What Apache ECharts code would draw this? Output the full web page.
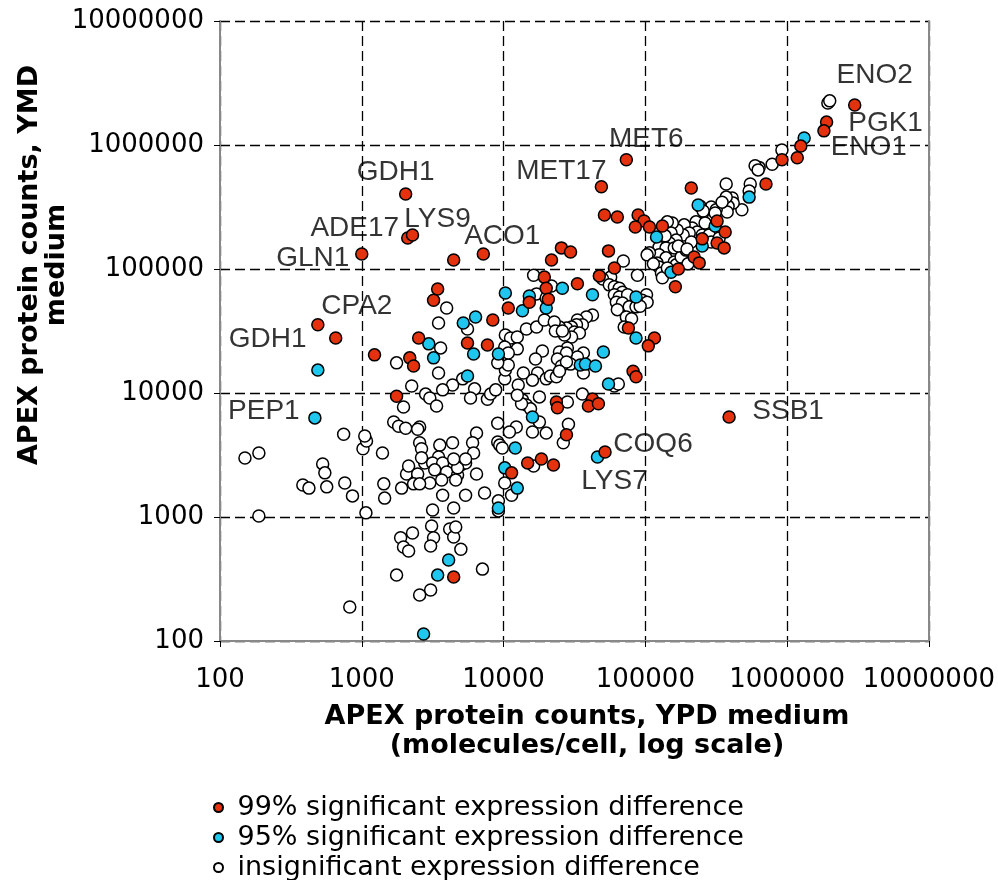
<!DOCTYPE html>
<html>
<head>
<meta charset="utf-8">
<title>APEX protein counts: YPD vs YMD</title>
<script src="https://cdn.jsdelivr.net/npm/echarts@6/dist/echarts.min.js"></script>
<style>
  html, body { margin: 0; padding: 0; background: #ffffff; }
  #chart { width: 998px; height: 880px; }
</style>
</head>
<body>
<div id="chart"></div>
<script>
// Protein counts (molecules/cell): [YPD medium, YMD medium]

// 99% significant expression difference
const sig99 = [
  [3000000, 2100000], [1900000, 1530000], [1820000, 1300000], [1250000, 980000], [1180000, 790000],
  [920000, 760000], [710000, 485000],
  [73500, 760000], [49000, 460000], [211000, 450000], [51500, 273000], [63500, 263000], [89000, 273000],
  [98000, 244000], [85000, 218000], [107000, 218000], [132000, 222000],
  [321000, 244000], [366000, 199000], [252000, 175000], [321000, 162000], [360000, 148000],
  [221000, 125000], [240000, 112000],
  [55000, 140000], [25600, 148000], [29700, 137000], [60500, 102000], [47400, 88000], [33200, 76000],
  [171000, 100000], [163000, 72000],
  [76000, 33400], [116000, 27800], [105000, 24000],
  [2040, 403000], [2110, 178000], [2280, 188000], [1000, 132000], [4450, 118000], [7200, 132000],
  [21800, 118000], [19400, 86000], [20000, 70000], [20700, 57000], [15200, 54000], [10800, 48500],
  [8400, 38800], [5570, 25300], [7700, 24400],
  [82000, 15000], [86000, 13500], [42400, 8950], [39700, 7860], [46700, 8200], [23600, 8470],
  [24000, 7600], [27800, 4600],
  [3430, 69000], [3210, 56000], [490, 35500], [655, 27800], [1230, 20300], [2520, 27800],
  [2180, 19200], [2320, 16500], [1760, 9400],
  [18500, 2940], [22500, 2630], [14800, 2730], [11400, 2270], [52000, 3340], [390000, 6400], [4450, 328]
];

// 95% significant expression difference
const sig95 = [
  [1320000, 1140000], [540000, 380000], [236000, 328000], [311000, 222000], [252000, 153000],
  [120000, 181000], [152000, 94000], [86000, 59500],
  [26000, 70000], [42400, 62000], [86000, 27800], [10300, 64000], [15200, 60500], [13600, 46000],
  [20000, 48500],
  [6350, 41000], [5200, 36700], [6150, 20600], [9200, 20600], [50600, 21400], [34800, 16800],
  [37800, 17100], [44500, 16500], [5570, 13700], [55000, 11800], [16000, 6400],
  [490, 15300], [2970, 24900], [3210, 19200], [467, 6300], [46000, 3050], [10200, 2490],
  [12100, 3600], [12500, 1710], [9200, 1180],
  [4100, 450], [3430, 340], [2730, 114]
];

// insignificant expression difference
const insig = [
  [1940000, 2180000], [2000000, 2270000], [920000, 910000], [785000, 700000], [635000, 660000],
  [595000, 680000], [625000, 630000], [372000, 485000], [550000, 485000], [540000, 425000],
  [480000, 300000], [410000, 374000], [417000, 340000], [384000, 320000], [378000, 288000],
  [292000, 316000], [316000, 300000], [273000, 273000], [302000, 258000], [252000, 227000],
  [228000, 240000], [214000, 214000], [232000, 199000], [188000, 227000], [204000, 195000],
  [185000, 188000], [168000, 206000], [155000, 235000], [143000, 240000], [152000, 195000],
  [165000, 171000], [148000, 162000], [132000, 171000], [125000, 150000], [140000, 148000],
  [160000, 148000], [125000, 130000], [140000, 123000], [160000, 114000], [121000, 112000],
  [107000, 135000], [103000, 130000], [125000, 104000], [130000, 93000], [132000, 85000],
  [165000, 108000], [179000, 125000], [194000, 142000], [211000, 165000], [252000, 188000],
  [282000, 188000], [292000, 165000], [332000, 178000], [244000, 320000], [256000, 294000],
  [311000, 283000], [264000, 235000], [372000, 380000], [348000, 346000], [138000, 185000],
  [171000, 153000], [197000, 145000], [114000, 110000], [200000, 110000], [143000, 102000],
  [70000, 116000], [88000, 89000], [57000, 86000], [50000, 83000], [55700, 74500],
  [60500, 72000], [65500, 70000], [69000, 65000], [60500, 62000], [65500, 59500],
  [75000, 62000], [62500, 54000], [69000, 53200], [77000, 49500], [86000, 49500],
  [102000, 62000], [95000, 56000], [103000, 54000], [63500, 47000], [73500, 41000],
  [80000, 39700], [71000, 34000], [42400, 42500], [38400, 41000], [33200, 38800],
  [36000, 35500], [32700, 35500], [30200, 34000], [27800, 33400], [24800, 34000],
  [31600, 31000], [34300, 30500], [30200, 28300], [26900, 29400], [92000, 50000],
  [16300, 89000], [21800, 73000], [17100, 63000], [20000, 58400],
  [36600, 21000], [33200, 19500], [36600, 14500], [29700, 17100], [36000, 9800],
  [28200, 8470], [28200, 23100], [60500, 11400], [64500, 11800], [28700, 5600], [26400, 3970],
  [3970, 48500], [3480, 36700], [5570, 32800], [3600, 23100], [3480, 14500],
  [5150, 13000], [4370, 11600], [3720, 10600], [2820, 9800], [3020, 9100],
  [3370, 7860], [6250, 10800], [5850, 9100], [7700, 8900], [8100, 9800],
  [8800, 10600], [10200, 13000], [10300, 15300], [10800, 16800], [9100, 17500],
  [10300, 29400], [11200, 27800], [12500, 28300], [12500, 22700], [10200, 23500],
  [10800, 21000], [14500, 32800], [17100, 34000], [19400, 38800], [22800, 37400],
  [23200, 31600], [26000, 31600], [24800, 21400], [27800, 21000], [24000, 18800],
  [25600, 16500], [27800, 17800], [18800, 21800], [16800, 18800], [17400, 14500],
  [16000, 12700], [13800, 14500], [12700, 11600], [13600, 8800], [14500, 8000],
  [15500, 7450], [13400, 8200], [12500, 9600], [17900, 9300], [20000, 13000],
  [21400, 13700], [23600, 13500], [24800, 15000], [17900, 5840], [16000, 4850],
  [20000, 4750], [12300, 5320], [11000, 4850], [9100, 5700], [9100, 4030],
  [9400, 3800], [6450, 4750], [6050, 3970], [6150, 3280], [4370, 3970],
  [3550, 3800], [3480, 3050], [2780, 2730], [3160, 2730], [3720, 2730],
  [3270, 2400], [3970, 2310], [4740, 2180], [5000, 2630], [5400, 2730],
  [4740, 2490], [6450, 2220], [3020, 1880], [3660, 1990], [4600, 1990],
  [5400, 1500], [7350, 1560], [10200, 1880], [11400, 1500], [3720, 1500],
  [2560, 5320], [2560, 3970],
  [2640, 3550], [2640, 3000], [4450, 2940], [150, 2990], [188, 3280],
  [530, 2680], [549, 2270], [384, 1810], [424, 1710], [566, 1750],
  [759, 1880], [860, 1480], [1020, 3550], [1080, 4100], [1400, 3280],
  [1430, 1850], [1450, 1420], [1910, 1710], [2070, 2220], [2140, 2580],
  [2480, 2220], [2320, 1850], [2560, 1850], [188, 1020], [1070, 1080],
  [3160, 1140], [4450, 1180], [2280, 743], [1880, 680], [1970, 573],
  [2140, 532], [3110, 847], [3210, 680], [3060, 584], [4170, 800],
  [4450, 690], [4600, 830], [5000, 550], [1760, 340], [3060, 258],
  [2560, 235], [823, 188], [7100, 380],
  [9800, 3600], [9200, 1350], [9200, 1120], [16300, 2580], [5400, 2940],
  [1760, 17500], [2250, 11400], [1970, 7720], [1680, 5840], [1820, 5400],
  [2040, 5200], [2480, 5100], [745, 4650], [1050, 4500]
];

// Named proteins and the point each name belongs to
const geneTags = [
  { name: 'ENO2',  at: [3000000, 2100000] },
  { name: 'PGK1',  at: [1900000, 1530000] },
  { name: 'ENO1',  at: [1250000, 980000] },
  { name: 'MET6',  at: [73500, 760000] },
  { name: 'MET17', at: [49000, 460000] },
  { name: 'GDH1',  at: [2040, 403000] },
  { name: 'LYS9',  at: [2280, 188000] },
  { name: 'ADE17', at: [2110, 178000] },
  { name: 'ACO1',  at: [7200, 132000] },
  { name: 'GLN1',  at: [1000, 132000] },
  { name: 'CPA2',  at: [490, 35500] },
  { name: 'GDH1',  at: [655, 27800] },
  { name: 'PEP1',  at: [467, 6300] },
  { name: 'SSB1',  at: [390000, 6400] },
  { name: 'COQ6',  at: [52000, 3340] },
  { name: 'LYS7',  at: [46000, 3050] }
];

const tickLabels = ['100', '1000', '10000', '100000', '1000000', '10000000'];

const seriesNames = [
  '99% significant expression difference',
  '95% significant expression difference',
  'insignificant expression difference'
];

// Label placement relative to its point, in pixels (same order as geneTags)
const tagOffsets = [
  [20, -30], [59, 1], [68, 1], [20, -20], [-40, -16], [-10, -22], [25, -16], [-53, -10],
  [19, -18], [-49, 4], [39, -18], [-68, 1], [-51, -7], [59, -6], [48, -8], [17, 24]
];

const FONT = '"DejaVu Sans", Verdana, sans-serif';
const LABEL_FONT = '"Liberation Sans", Arial, sans-serif';
const RED = '#E4320E';
const CYAN = '#1FC7EF';

function tickText(v) {
  const i = Math.round(Math.log10(v)) - 2;
  return tickLabels[i] !== undefined ? tickLabels[i] : '';
}

const dashed = { show: true, lineStyle: { color: '#000', width: 1.3, type: [10, 5] } };

const pointStyle = (fill) => ({ color: fill, borderColor: '#000', borderWidth: 1.5, opacity: 1 });

// one legend row per series, stacked under the axis title
const legendRows = seriesNames.map((name, i) => ({
  orient: 'vertical', left: 208, top: 789 + i * 30,
  data: [name],
  icon: 'circle', itemWidth: 28, itemHeight: 9,
  textStyle: { color: '#000', fontSize: 27, fontFamily: FONT },
  selectedMode: false
}));

const chart = echarts.init(document.getElementById('chart'), null, { renderer: 'canvas' });

chart.setOption({
  animation: false,
  backgroundColor: '#ffffff',
  grid: { left: 220, right: 68, top: 21, bottom: 239, containLabel: false },
  xAxis: {
    type: 'log', logBase: 10, min: 100, max: 10000000,
    axisLine: { show: true, lineStyle: { color: '#888', width: 2 } },
    axisTick: { show: true, inside: false, length: 6, lineStyle: { color: '#000', width: 1 } },
    axisLabel: { formatter: tickText, color: '#000', fontSize: 26, fontFamily: FONT, margin: 26 },
    splitLine: dashed
  },
  yAxis: [
    {
      type: 'log', logBase: 10, min: 100, max: 10000000,
      axisLine: { show: true, lineStyle: { color: '#888', width: 2 } },
      axisTick: { show: true, inside: false, length: 6, lineStyle: { color: '#000', width: 1 } },
      axisLabel: { formatter: tickText, color: '#000', fontSize: 26, fontFamily: FONT, margin: 16 },
      splitLine: dashed
    },
    {
      type: 'log', logBase: 10, min: 100, max: 10000000, position: 'right',
      axisLine: { show: true, lineStyle: { color: '#888', width: 2 } },
      axisTick: { show: false }, axisLabel: { show: false }, splitLine: { show: false }
    }
  ],
  legend: legendRows,
  graphic: [
    {
      type: 'text', x: 587, y: 731,
      style: {
        text: 'APEX protein counts, YPD medium\n(molecules/cell, log scale)',
        font: 'bold 27px ' + FONT, fill: '#000', align: 'center', verticalAlign: 'middle',
        lineHeight: 29
      }
    },
    {
      type: 'text', x: 43, y: 265, rotation: Math.PI / 2,
      style: {
        text: 'APEX protein counts, YMD\nmedium',
        font: 'bold 27px ' + FONT, fill: '#000', align: 'center', verticalAlign: 'middle',
        lineHeight: 27
      }
    }
  ],
  series: [
    {
      name: seriesNames[2], type: 'scatter', symbol: 'circle', symbolSize: 12,
      itemStyle: pointStyle('#ffffff'), data: insig, z: 2
    },
    {
      name: seriesNames[1], type: 'scatter', symbol: 'circle', symbolSize: 12,
      itemStyle: pointStyle(CYAN), data: sig95, z: 3
    },
    {
      name: seriesNames[0], type: 'scatter', symbol: 'circle', symbolSize: 12,
      itemStyle: pointStyle(RED), data: sig99, z: 4
    },
    {
      name: 'gene names', type: 'scatter', symbolSize: 0, silent: true, z: 5,
      data: geneTags.map((g, i) => ({
        value: g.at, name: g.name,
        label: { offset: tagOffsets[i] }
      })),
      label: {
        show: true, position: 'inside', formatter: '{b}', color: '#000',
        fontSize: 28, fontFamily: LABEL_FONT, align: 'center', verticalAlign: 'middle'
      }
    }
  ]
});
</script>
</body>
</html>
